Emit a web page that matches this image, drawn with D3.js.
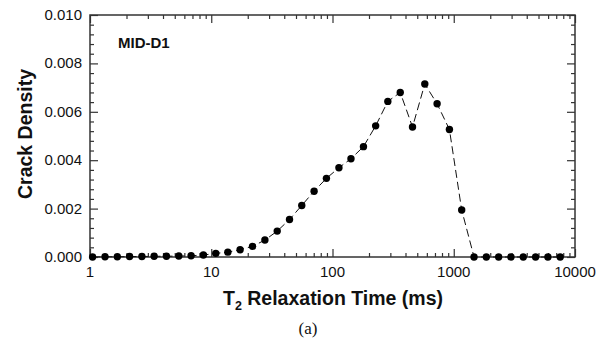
<!DOCTYPE html>
<html>
<head>
<meta charset="utf-8">
<script src="https://cdn.jsdelivr.net/npm/d3@7/dist/d3.min.js"></script>
<style>
  html, body { margin: 0; padding: 0; background: #fff; }
  svg { display: block; }
  text { font-family: "Liberation Sans", Arial, Helvetica, sans-serif; fill: #111; }
</style>
</head>
<body>
<svg id="chart" width="598" height="350"></svg>
<script>
// ---- data ----
const t2Times = [1.05, 1.33, 1.68, 2.12, 2.68, 3.38, 4.27, 5.40, 6.82, 8.61,
  10.9, 13.7, 17.3, 21.9, 27.7, 35.0, 44.2, 55.8, 70.5, 89.1,
  113, 142, 180, 227, 286, 362, 457, 577, 729, 921,
  1163, 1470, 1857, 2346, 2964, 3745, 4731, 5977, 7551];
const crackDensity = [0, 0.00001, 0.00001, 0.00002, 0.00002, 0.00003, 0.00003, 0.00004, 0.00005, 0.00008,
  0.00015, 0.0002, 0.0003, 0.00044, 0.0007, 0.00107, 0.00155, 0.00213, 0.00272, 0.00325,
  0.00369, 0.00406, 0.00456, 0.00542, 0.00643, 0.0068, 0.00537, 0.00715, 0.00633, 0.00527,
  0.00194, 0, 0, 0, 0, 0, 0, 0, 0];
const xTickValues = [1, 10, 100, 1000, 10000];
const xTickLabels = ["1", "10", "100", "1000", "10000"];
const yTickValues = [0, 0.002, 0.004, 0.006, 0.008, 0.010];
const yTickLabels = ["0.000", "0.002", "0.004", "0.006", "0.008", "0.010"];
const sampleLabel = "MID-D1";
const xTitle = "T";
const xTitleSub = "2";
const xTitleRest = " Relaxation Time (ms)";
const yTitle = "Crack Density";
const caption = "(a)";

// ---- layout ----
const L = 90, R = 575, T = 15, B = 257;
const svg = d3.select("#chart");
const x = d3.scaleLog().domain([1, 10000]).range([L, R]);
const y = d3.scaleLinear().domain([0, 0.010]).range([B, T]);

const xMinor = [];
for (let d = 1; d < 10000; d *= 10) for (let m = 2; m <= 9; m++) xMinor.push(d * m);
const yMinor = d3.range(0, 0.0100001, 0.0004).filter(v => !yTickValues.some(t => Math.abs(t - v) < 1e-9));

const axisColor = "#333";
function styleAxis(g) {
  g.select(".domain").remove();
  g.selectAll("line").attr("stroke", axisColor).attr("stroke-width", 1.2);
}
[[d3.axisBottom, B, -8, xTickValues], [d3.axisBottom, B, -4, xMinor],
 [d3.axisTop, T, -8, xTickValues], [d3.axisTop, T, -4, xMinor]].forEach(([ax, pos, sz, vals]) => {
  svg.append("g").attr("transform", `translate(0,${pos})`)
    .call(ax(x).tickValues(vals).tickSize(sz).tickFormat(""))
    .call(styleAxis);
});
[[d3.axisLeft, L, -8, yTickValues], [d3.axisLeft, L, -4, yMinor],
 [d3.axisRight, R, -8, yTickValues], [d3.axisRight, R, -4, yMinor]].forEach(([ax, pos, sz, vals]) => {
  svg.append("g").attr("transform", `translate(${pos},0)`)
    .call(ax(y).tickValues(vals).tickSize(sz).tickFormat(""))
    .call(styleAxis);
});

svg.append("rect").attr("x", L).attr("y", T).attr("width", R - L).attr("height", B - T)
  .attr("fill", "none").attr("stroke", axisColor).attr("stroke-width", 1.5);

svg.append("g").selectAll("text").data(xTickValues).join("text")
  .attr("x", d => x(d)).attr("y", 277)
  .attr("text-anchor", "middle").attr("font-size", 15)
  .text((d, i) => xTickLabels[i]);
svg.append("g").selectAll("text").data(yTickValues).join("text")
  .attr("x", 82).attr("y", d => y(d) + 5)
  .attr("text-anchor", "end").attr("font-size", 15)
  .text((d, i) => yTickLabels[i]);

const line = d3.line().x((d, i) => x(t2Times[i])).y(d => y(d));
svg.append("path").datum(crackDensity)
  .attr("d", line).attr("fill", "none").attr("stroke", "#111")
  .attr("stroke-width", 1).attr("stroke-dasharray", "8,4");
svg.append("g").selectAll("circle").data(crackDensity).join("circle")
  .attr("cx", (d, i) => x(t2Times[i])).attr("cy", d => y(d))
  .attr("r", 3.7).attr("fill", "#000");

svg.append("text").attr("x", 118).attr("y", 48)
  .attr("font-size", 15).attr("font-weight", "bold").text(sampleLabel);

svg.append("text")
  .attr("transform", `translate(32,${(T + B) / 2 - 2}) rotate(-90)`)
  .attr("text-anchor", "middle").attr("font-size", 19.5).attr("font-weight", "bold")
  .text(yTitle);

const xt = svg.append("text").attr("x", 333).attr("y", 305)
  .attr("text-anchor", "middle").attr("font-size", 19.5).attr("font-weight", "bold");
xt.append("tspan").text(xTitle);
xt.append("tspan").attr("font-size", 12.5).attr("dy", 5).text(xTitleSub);
xt.append("tspan").attr("dy", -5).text(xTitleRest);

svg.append("text").attr("x", 308).attr("y", 334)
  .attr("text-anchor", "middle").attr("font-size", 17)
  .style("font-family", "'Liberation Serif', 'Times New Roman', serif")
  .text(caption);
</script>
</body>
</html>
